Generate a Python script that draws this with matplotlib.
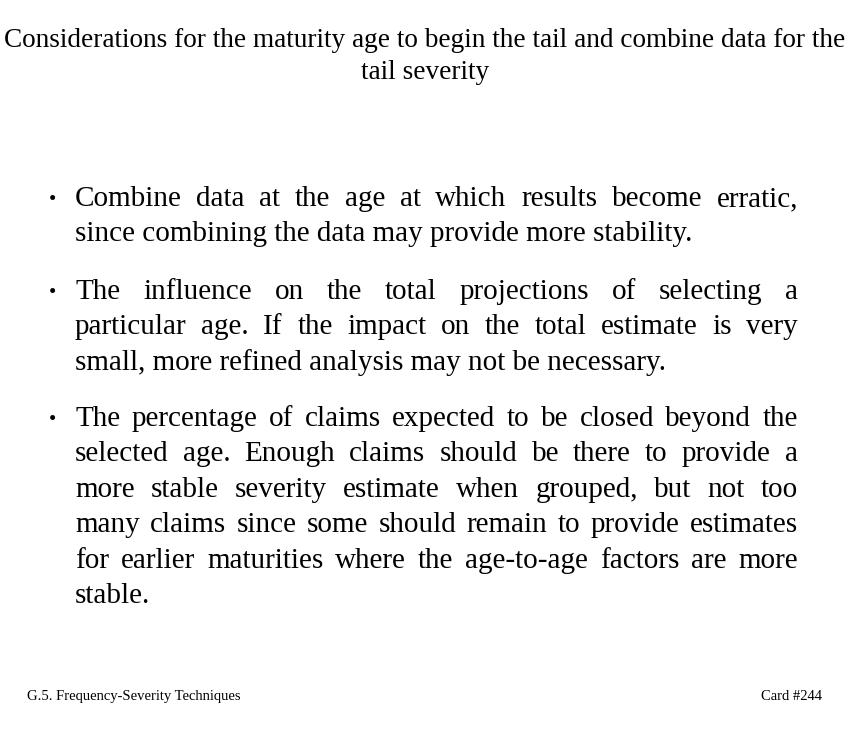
import matplotlib
matplotlib.use("Agg")
import matplotlib.pyplot as plt

title_lines = ["Considerations for the maturity age to begin the tail and combine data for the",
               "tail severity"]
bullets = [
    ["Combine data at the age at which results become erratic,",
     "since combining the data may provide more stability."],
    ["The influence on the total projections of selecting a",
     "particular age.  If the impact on the total estimate is very",
     "small, more refined analysis may not be necessary."],
    ["The percentage of claims expected to be closed beyond the",
     "selected age.  Enough claims should be there to provide a",
     "more stable severity estimate when grouped, but not too",
     "many claims since some should remain to provide estimates",
     "for earlier maturities where the age-to-age factors are more",
     "stable."],
]
bullet_tops = [198, 291, 418]
footer_left = "G.5. Frequency-Severity Techniques"
footer_right = "Card #244"

W, H = 850, 734
fig = plt.figure(figsize=(8.5, 7.34), dpi=100)
fig.patch.set_facecolor("white")
FAM = ["Liberation Serif", "DejaVu Serif"]
fig.canvas.draw()
r = fig.canvas.get_renderer()

def px(x, y):
    return x / W, 1 - y / H

for i, t in enumerate(title_lines):
    fig.text(*px(425, 47 + 32 * i), t, ha="center", va="baseline", fontsize=19.6, family=FAM)

L, R = 75, 798
lh = 35.4
FS = 21
for top, lines in zip(bullet_tops, bullets):
    fig.text(*px(53, top + 7), "•", ha="center", va="baseline", fontsize=15, family=FAM)
    for j, line in enumerate(lines):
        y = top + j * lh + 8
        last = j == len(lines) - 1
        if last:
            fig.text(*px(L, y), line, ha="left", va="baseline", fontsize=FS, family=FAM)
            continue
        words = line.split()
        ts = []
        widths = []
        for w in words:
            t = fig.text(*px(L, y), w, ha="left", va="baseline", fontsize=FS, family=FAM)
            widths.append(t.get_window_extent(r).width)
            ts.append(t)
        gap = (R - L - sum(widths)) / (len(words) - 1)
        x = L
        for t, wd in zip(ts, widths):
            t.set_position(px(x, y))
            x += wd + gap

fig.text(*px(27, 700), footer_left, ha="left", va="baseline", fontsize=10.5, family=FAM)
fig.text(*px(822, 700), footer_right, ha="right", va="baseline", fontsize=10.5, family=FAM)
fig.savefig("out.png", dpi=100)
